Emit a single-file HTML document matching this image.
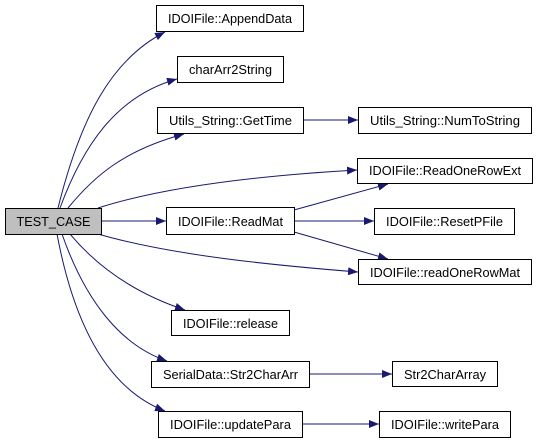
<!DOCTYPE html>
<html><head><style>
body{margin:0;background:#fff;}
svg text{font-family:"Liberation Sans",Arial,sans-serif;font-size:13px;fill:#000;}
</style></head><body>
<svg width="537" height="443" viewBox="0 0 537 443" xmlns="http://www.w3.org/2000/svg">
<defs><marker id="a" markerWidth="10" markerHeight="8" refX="10" refY="4" orient="auto" markerUnits="userSpaceOnUse"><path d="M0,0 L10,4 L0,8 Z" fill="#191970"/></marker></defs>
<g fill="none" stroke="#191970" stroke-width="1" marker-end="url(#a)">
<path d="M58,208 C80,120 110,60 165,32"/>
<path d="M60,208 C85,140 120,95 177,79"/>
<path d="M68,208 C95,175 125,150 184,134"/>
<path d="M98,208 C170,185 270,175 357,170"/>
<path d="M101,221 L166,221"/>
<path d="M98,234 C170,255 270,265 358,272"/>
<path d="M70,234 C100,270 140,295 185,310"/>
<path d="M62,234 C85,300 120,345 167,361"/>
<path d="M57,234 C75,330 110,390 165,411"/>
<path d="M303,120 L358,120"/>
<path d="M294,210 L388,184"/>
<path d="M294,221 L374,221"/>
<path d="M294,232 L388,259"/>
<path d="M309,374 L392,374"/>
<path d="M302,424 L379,424"/>
</g>
<g stroke="#000" stroke-width="1" fill="#fff">
<rect x="5.5" y="208.5" width="96" height="26" fill="#bfbfbf"/>
<rect x="156.5" y="5.5" width="147" height="26"/>
<rect x="177.5" y="56.5" width="106" height="26"/>
<rect x="157.5" y="107.5" width="146" height="26"/>
<rect x="358.5" y="107.5" width="173" height="26"/>
<rect x="357.5" y="158.5" width="175" height="25"/>
<rect x="166.5" y="207.5" width="128" height="27"/>
<rect x="374.5" y="208.5" width="140" height="26"/>
<rect x="358.5" y="259.5" width="173" height="25"/>
<rect x="171.5" y="310.5" width="118" height="25"/>
<rect x="151.5" y="361.5" width="158" height="26"/>
<rect x="392.5" y="361.5" width="105" height="25"/>
<rect x="158.5" y="411.5" width="144" height="26"/>
<rect x="379.5" y="411.5" width="131" height="26"/>
</g>
<g text-anchor="middle" lengthAdjust="spacingAndGlyphs">
<text x="53.5" y="226" textLength="74" lengthAdjust="spacingAndGlyphs">TEST_CASE</text>
<text x="230" y="23" textLength="124" lengthAdjust="spacingAndGlyphs">IDOIFile::AppendData</text>
<text x="230.5" y="74" textLength="83" lengthAdjust="spacingAndGlyphs">charArr2String</text>
<text x="230.5" y="125" textLength="123" lengthAdjust="spacingAndGlyphs">Utils_String::GetTime</text>
<text x="445" y="125" textLength="150" lengthAdjust="spacingAndGlyphs">Utils_String::NumToString</text>
<text x="445" y="175" textLength="152" lengthAdjust="spacingAndGlyphs">IDOIFile::ReadOneRowExt</text>
<text x="230.5" y="226" textLength="105" lengthAdjust="spacingAndGlyphs">IDOIFile::ReadMat</text>
<text x="444.5" y="226" textLength="117" lengthAdjust="spacingAndGlyphs">IDOIFile::ResetPFile</text>
<text x="445" y="277" textLength="150" lengthAdjust="spacingAndGlyphs">IDOIFile::readOneRowMat</text>
<text x="230.5" y="328" textLength="95" lengthAdjust="spacingAndGlyphs">IDOIFile::release</text>
<text x="230.5" y="379" textLength="135" lengthAdjust="spacingAndGlyphs">SerialData::Str2CharArr</text>
<text x="445" y="379" textLength="82" lengthAdjust="spacingAndGlyphs">Str2CharArray</text>
<text x="230.5" y="429" textLength="121" lengthAdjust="spacingAndGlyphs">IDOIFile::updatePara</text>
<text x="445" y="429" textLength="108" lengthAdjust="spacingAndGlyphs">IDOIFile::writePara</text>
</g>
</svg>
</body></html>
